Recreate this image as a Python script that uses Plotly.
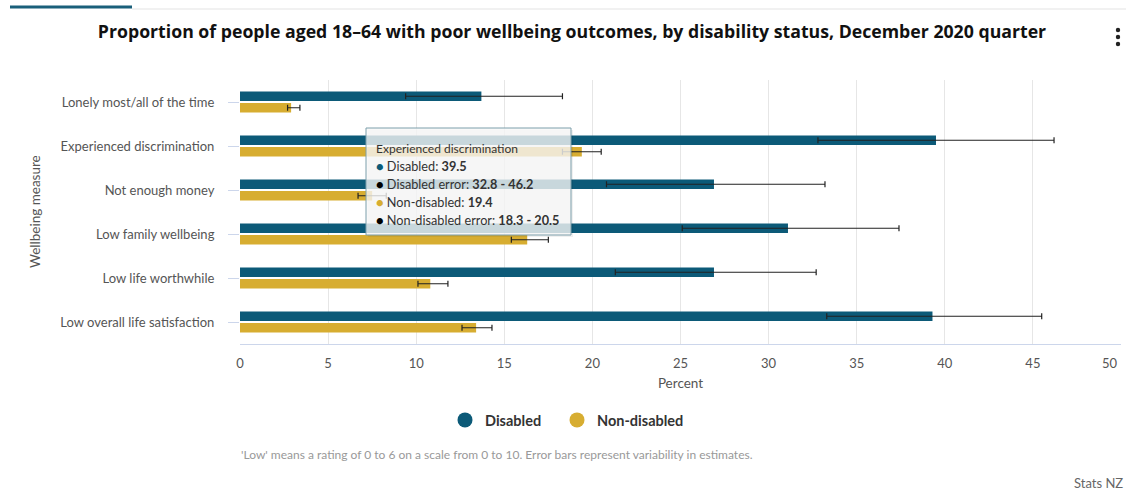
import plotly.graph_objects as go

categories = [
    "Lonely most/all of the time",
    "Experienced discrimination",
    "Not enough money",
    "Low family wellbeing",
    "Low life worthwhile",
    "Low overall life satisfaction",
]
disabled = [13.7, 39.5, 26.9, 31.1, 26.9, 39.3]
disabled_low = [9.4, 32.8, 20.8, 25.1, 21.3, 33.3]
disabled_high = [18.3, 46.2, 33.2, 37.4, 32.7, 45.5]
non_disabled = [2.9, 19.4, 7.5, 16.3, 10.8, 13.4]
non_disabled_low = [2.7, 18.3, 6.7, 15.4, 10.1, 12.6]
non_disabled_high = [3.4, 20.5, 8.3, 17.5, 11.8, 14.3]
x_ticks = [0, 5, 10, 15, 20, 25, 30, 35, 40, 45, 50]
x_ticklabels = ["0", "5", "10", "15", "20", "25", "30", "35", "40", "45", ""]

C_DIS = "#0c5a78"
C_NON = "#d7ad31"
FONT = "Lato"

def plus(v, hi):
    return [h - a for a, h in zip(v, hi)]

def minus(v, lo):
    return [a - l for a, l in zip(v, lo)]

fig = go.Figure()
fig.add_trace(go.Bar(
    y=categories, x=disabled, orientation="h", name="Disabled",
    marker=dict(color=C_DIS, line=dict(width=0)), showlegend=False,
    error_x=dict(type="data", symmetric=False,
                 array=plus(disabled, disabled_high),
                 arrayminus=minus(disabled, disabled_low),
                 color="#222", thickness=1.2, width=3),
))
fig.add_trace(go.Bar(
    y=categories, x=non_disabled, orientation="h", name="Non-disabled",
    marker=dict(color=C_NON, line=dict(width=0)), showlegend=False,
    error_x=dict(type="data", symmetric=False,
                 array=plus(non_disabled, non_disabled_high),
                 arrayminus=minus(non_disabled, non_disabled_low),
                 color="#222", thickness=1.2, width=3),
))
# legend entries with round markers (one legend each, for exact spacing)
for nm, col, lg in [("Disabled", C_DIS, "legend"), ("Non-disabled", C_NON, "legend2")]:
    fig.add_trace(go.Scatter(x=[None], y=[None], mode="markers", name=nm, legend=lg,
                             marker=dict(symbol="circle", size=15, color=col)))

L, R, T, B = 240, 5, 80, 146
W, H = 1126, 490
pw, ph = W - L - R, H - T - B

def px(xp):
    return (xp - L) / pw

def py(yp):
    return (H - B - yp) / ph

legend_style = dict(orientation="h", xanchor="left", yanchor="middle", y=py(420),
                    font=dict(family=FONT, size=14.5, color="#333", weight="bold"),
                    itemsizing="trace", bgcolor="rgba(0,0,0,0)")

fig.update_layout(
    width=W, height=H,
    margin=dict(l=L, r=R, t=T, b=B),
    paper_bgcolor="white", plot_bgcolor="white",
    font=dict(family=FONT, color="#555", size=12),
    barmode="group", bargap=0.477, bargroupgap=0.17,
    title=dict(text="<b>Proportion of people aged 18–64 with poor wellbeing outcomes, by disability status, December 2020 quarter</b>",
               x=572 / W, xanchor="center", y=1 - 32 / H, yanchor="middle",
               font=dict(family="Open Sans", size=17.7, color="#111")),
    showlegend=True,
    legend=dict(x=px(445), **legend_style),
    legend2=dict(x=px(557), **legend_style),
    xaxis=dict(range=[0, 50], tickvals=x_ticks, ticktext=x_ticklabels,
               showgrid=True, gridcolor="#e6e6e6",
               gridwidth=1, zeroline=False, showline=True, linecolor="#ccd6eb",
               ticks="", tickfont=dict(size=13, color="#555"), ticklabelstandoff=7,
               title=dict(text="Percent", font=dict(size=13.5, color="#555"), standoff=8)),
    yaxis=dict(autorange="reversed", showgrid=False, showline=False,
               ticks="outside", ticklen=11, tickcolor="#ccd6eb", tickwidth=1,
               tickfont=dict(size=13, color="#555"), ticklabelstandoff=11),
)

# last x tick label, pulled inside the page like the reference
fig.add_annotation(text=str(x_ticks[-1]), xref="paper", yref="paper", x=px(1110), y=py(363),
                   xanchor="center", yanchor="middle", showarrow=False,
                   font=dict(size=13, color="#555", family=FONT))

# y-axis title
fig.add_annotation(text="Wellbeing measure", textangle=-90, xref="paper", yref="paper",
                   x=px(35), y=py(212), xanchor="center", yanchor="middle", showarrow=False,
                   font=dict(size=13.5, color="#555", family=FONT))

# footnote and credit
fig.add_annotation(text="'Low' means a rating of 0 to 6 on a scale from 0 to 10. Error bars represent variability in estimates.",
                   xref="paper", yref="paper", x=px(239), y=py(454), xanchor="left", yanchor="middle",
                   showarrow=False, font=dict(size=12, color="#999", family=FONT))
fig.add_annotation(text="Stats NZ", xref="paper", yref="paper", x=px(1098), y=py(483),
                   xanchor="center", yanchor="middle", showarrow=False,
                   font=dict(size=13, color="#666", family=FONT))

# top decoration lines
fig.add_shape(type="line", xref="paper", yref="paper", x0=px(132), x1=px(1126), y0=py(9), y1=py(9),
              line=dict(color="#e3e3e3", width=1))
fig.add_shape(type="line", xref="paper", yref="paper", x0=px(10), x1=px(132), y0=py(7), y1=py(7),
              line=dict(color="#1a5f7a", width=3))
# menu icon (three dots)
for yy in (30, 37, 44):
    fig.add_shape(type="circle", xref="paper", yref="paper",
                  x0=px(1115.8), x1=px(1120.2), y0=py(yy - 2.2), y1=py(yy + 2.2),
                  fillcolor="#222", line=dict(width=0))

# tooltip for "Experienced discrimination"
i = 1
fig.add_shape(type="rect", xref="paper", yref="paper", x0=px(368), x1=px(573), y0=py(130), y1=py(237),
              fillcolor="rgba(0,0,0,0.06)", line=dict(width=0), layer="above")
fig.add_shape(type="rect", xref="paper", yref="paper", x0=px(366), x1=px(571), y0=py(128), y1=py(235),
              fillcolor="rgba(247,247,247,0.8)", line=dict(color="#7d9fab", width=1), layer="above")
lines = [
    (f"{categories[i]}", None),
    (f"Disabled: <b>{disabled[i]}</b>", C_DIS),
    (f"Disabled error: <b>{disabled_low[i]} - {disabled_high[i]}</b>", "#000"),
    (f"Non-disabled: <b>{non_disabled[i]}</b>", C_NON),
    (f"Non-disabled error: <b>{non_disabled_low[i]} - {non_disabled_high[i]}</b>", "#000"),
]
for k, (txt, col) in enumerate(lines):
    ypos = 148 + 18 * k
    if col is None:
        t = txt
        fs = 12
    else:
        t = f"<span style='color:{col}'>●</span> {txt}"
        fs = 12.7
    fig.add_annotation(text=t, xref="paper", yref="paper", x=px(374), y=py(ypos),
                       xanchor="left", yanchor="middle", showarrow=False,
                       font=dict(size=fs, color="#333", family=FONT))

fig.write_html("out.html", config={"displayModeBar": False},
               post_script="document.body.style.margin='0px';")
